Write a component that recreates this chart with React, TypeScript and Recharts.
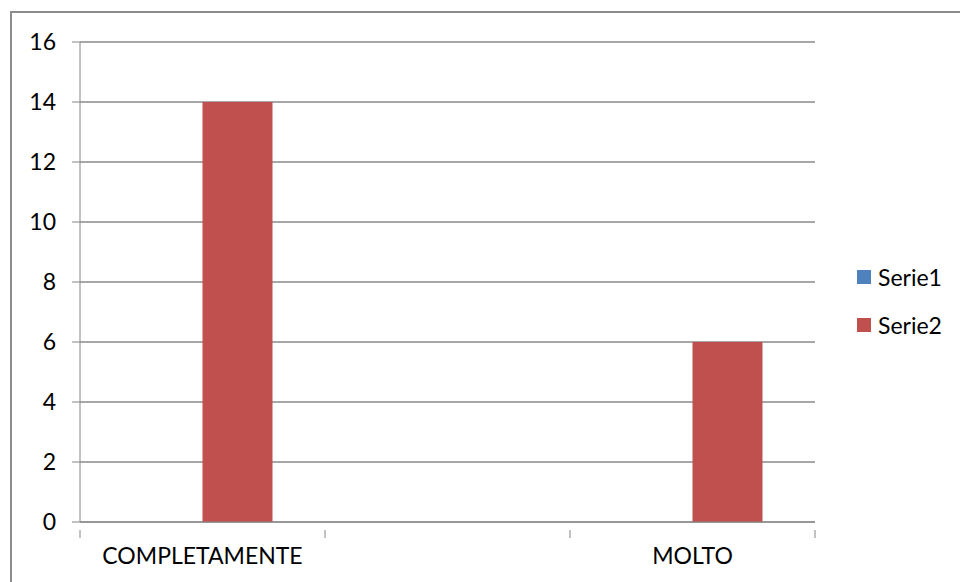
import { BarChart, Bar, XAxis, YAxis, CartesianGrid } from 'recharts';

const categories = ['COMPLETAMENTE', '', 'MOLTO'];
const serie1 = [0, 0, 0];
const serie2 = [14, 0, 6];
const yTicks = [0, 2, 4, 6, 8, 10, 12, 14, 16];

const seriesNames = ['Serie1', 'Serie2'];
const colors = ['#4F81BD', '#C0504D'];

const data = categories.map((name, i) => ({ name, Serie1: serie1[i], Serie2: serie2[i] }));

const font = 'Lato, "Open Sans", sans-serif';

const CategoryTick = (props) => {
  const { x, y, payload, index } = props;
  const half = payload.offset ?? 122.5;
  return (
    <g>
      <line x1={x - half} y1={y} x2={x - half} y2={y + 8} stroke="#868686" />
      {index === categories.length - 1 && (
        <line x1={x + half} y1={y} x2={x + half} y2={y + 8} stroke="#868686" />
      )}
      <text x={x} y={y + 34} textAnchor="middle" fill="#000" fontSize={23} fontFamily={font}>
        {payload.value}
      </text>
    </g>
  );
};

const SideLegend = () => (
  <div style={{ position: 'absolute', left: 857, top: 253, fontFamily: font, fontSize: 23 }}>
    {seriesNames.map((s, i) => (
      <div key={s} style={{ display: 'flex', alignItems: 'center', height: 48 }}>
        <span style={{ width: 14, height: 14, background: colors[i], marginRight: 7 }} />
        <span>{s}</span>
      </div>
    ))}
  </div>
);

export default function App() {
  return (
    <div style={{ position: 'absolute', left: 0, top: 0, width: 960, height: 582, background: '#fff', overflow: 'hidden' }}>
      <div style={{ position: 'absolute', left: 10, top: 11, width: 1000, height: 620, border: '2px solid #8c8c8c' }} />
      <BarChart
        width={960}
        height={582}
        data={data}
        margin={{ top: 42, right: 145, bottom: 20, left: 0 }}
        barCategoryGap="21.43%"
        barGap={0}
      >
        <CartesianGrid vertical={false} stroke="#8a8a8a" strokeWidth={1.5} />
        <XAxis
          dataKey="name"
          height={40}
          axisLine={{ stroke: '#868686' }}
          tickLine={false}
          tick={<CategoryTick />}
          interval={0}
        />
        <YAxis
          width={80}
          domain={[0, 16]}
          ticks={yTicks}
          interval={0}
          axisLine={{ stroke: '#868686' }}
          tickLine={{ stroke: '#868686' }}
          tickSize={8}
          tickMargin={16}
          tick={{ fill: '#000', fontSize: 23, fontFamily: font }}
        />
        {seriesNames.map((s, i) => (
          <Bar key={s} dataKey={s} fill={colors[i]} isAnimationActive={false} />
        ))}
      </BarChart>
      <SideLegend />
    </div>
  );
}
